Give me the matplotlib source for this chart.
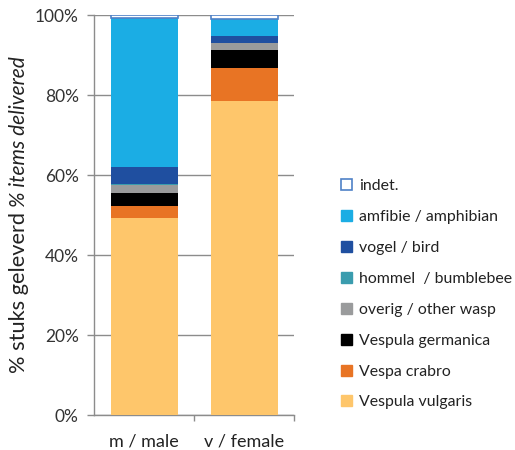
import matplotlib
matplotlib.use("Agg")
import matplotlib.pyplot as plt
from matplotlib.patches import Patch
import numpy as np

plt.rcParams['font.family'] = ['Lato', 'DejaVu Sans']

categories = ["m / male", "v / female"]
series_names = ["Vespula vulgaris", "Vespa crabro", "Vespula germanica",
                "overig / other wasp", "hommel  / bumblebee", "vogel / bird",
                "amfibie / amphibian", "indet."]
vulgaris = [49.3, 78.6]
crabro = [3.0, 8.2]
germanica = [3.3, 4.5]
other_wasp = [2.0, 1.6]
bumblebee = [0.2, 0.0]
bird = [4.2, 1.9]
amphibian = [37.2, 4.1]
indet = [0.8, 1.1]
series_values = [vulgaris, crabro, germanica, other_wasp, bumblebee, bird, amphibian, indet]
colors = ["#FEC66B", "#E87424", "#000000", "#9A9B9C", "#3A9CAE", "#1F4FA0", "#1BADE4", "white"]
yticks = [0, 20, 40, 60, 80, 100]
ytick_labels = ["0%", "20%", "40%", "60%", "80%", "100%"]

fig = plt.figure(figsize=(5.15, 4.5), dpi=100)
ax = fig.add_axes([94/515, 35/450, 200/515, 400/450])

x = np.arange(len(categories))
bottom = np.zeros(len(categories))
handles = []
for name, vals, c in zip(series_names, series_values, colors):
    vals = np.array(vals)
    if name == "indet.":
        ax.bar(x, vals, 0.67, bottom=bottom, color=c, edgecolor="#4F81C7", linewidth=1.2, zorder=3)
        handles.append(Patch(facecolor="white", edgecolor="#4F81C7", linewidth=1.2, label=name))
    else:
        ax.bar(x, vals, 0.67, bottom=bottom, color=c, zorder=3, linewidth=0)
        handles.append(Patch(facecolor=c, edgecolor=c, label=name))
    bottom += vals

ax.set_xlim(-0.505, 1.5)
ax.set_ylim(0, 100)
ax.set_yticks(yticks)
ax.set_yticklabels(ytick_labels, fontsize=12.5, color="#333333")
ax.set_xticks(x)
ax.set_xticklabels(categories, fontsize=13, color="#222222")
ax.set_xticks([0.5, 1.5], minor=True)
ax.tick_params(axis='x', which='major', length=0, pad=13)
ax.tick_params(axis='x', which='minor', length=4, color="#8c8c8c", width=1)
ax.tick_params(axis='y', length=5, color="#8c8c8c", width=1, pad=6)
ax.yaxis.grid(True, color="#8c8c8c", linewidth=1, zorder=0)
ax.set_axisbelow(True)
for s in ["top", "right"]:
    ax.spines[s].set_visible(False)
for s in ["left", "bottom"]:
    ax.spines[s].set_color("#8c8c8c")
    ax.spines[s].set_linewidth(1)

fig.text(19/515, 1 - 373/450, "% stuks geleverd", rotation=90, fontsize=15.7,
         color="#222222", ha="center", va="bottom")
fig.text(19/515, 1 - 207/450, "% items delivered", rotation=90, fontsize=15,
         color="#222222", ha="center", va="bottom", style="italic")

leg = fig.legend(handles=handles[::-1], loc="upper left", bbox_to_anchor=(335/515, 1 - 173/450),
                 frameon=False, fontsize=11.4, handlelength=0.7, handleheight=0.7,
                 handletextpad=0.4, labelspacing=1.06, borderaxespad=0)
for t in leg.get_texts():
    t.set_color("#222222")

fig.savefig("out.png", dpi=100)
